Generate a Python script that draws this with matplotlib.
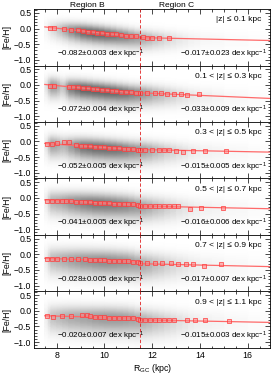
import numpy as np
import matplotlib
matplotlib.use("Agg")
import matplotlib.pyplot as plt
from matplotlib.colors import LinearSegmentedColormap
from matplotlib.ticker import MultipleLocator

plt.rcParams['font.family'] = ['Liberation Sans', 'DejaVu Sans']
plt.rcParams['mathtext.fontset'] = 'custom'
plt.rcParams['mathtext.rm'] = 'Liberation Sans'
plt.rcParams['mathtext.it'] = 'Liberation Sans:italic'

# ---- data ----
z_labels = ["|z| \u2264 0.1 kpc", "0.1 < |z| \u2264 0.3 kpc", "0.3 < |z| \u2264 0.5 kpc",
            "0.5 < |z| \u2264 0.7 kpc", "0.7 < |z| \u2264 0.9 kpc", "0.9 < |z| \u2264 1.1 kpc"]

R_split = 11.5

slope_B = [-0.082, -0.072, -0.052, -0.041, -0.028, -0.020]
err_B = [0.003, 0.004, 0.005, 0.005, 0.005, 0.007]
slope_C = [-0.017, -0.033, -0.015, -0.016, -0.017, -0.015]
err_C = [0.023, 0.009, 0.005, 0.006, 0.007, 0.003]
# fit line value at R=8 (region B) and at R=11.5 (region C)
fitB_at8 = [0.01, -0.02, -0.09, -0.085, -0.14, -0.17]
fitC_at115 = [-0.29, -0.25, -0.26, -0.26, -0.30, -0.29]

# binned medians (red squares)
bin_R = [
    [7.7, 7.9, 8.3, 8.6, 8.9, 9.1, 9.3, 9.5, 9.7, 9.9, 10.1, 10.3, 10.5, 10.7, 10.9, 11.1, 11.3,
     11.6, 11.8, 12.0, 12.3, 12.7],
    [7.7, 7.9, 8.5, 8.7, 8.9, 9.1, 9.3, 9.5, 9.7, 9.9, 10.1, 10.3, 10.5, 10.7, 10.9, 11.1, 11.3,
     11.5, 11.8, 12.1, 12.35, 12.6, 12.9, 13.2, 13.45, 13.95],
    [7.6, 7.8, 8.0, 8.3, 8.5, 8.8, 9.0, 9.2, 9.4, 9.6, 9.8, 10.0, 10.2, 10.4, 10.6, 10.8, 11.0, 11.2, 11.4,
     11.5, 11.7, 12.0, 12.3, 12.5, 12.7, 13.0, 13.3, 13.7, 14.2, 15.1],
    [7.6, 7.8, 8.0, 8.2, 8.4, 8.6, 8.8, 9.0, 9.2, 9.4, 9.6, 9.8, 10.0, 10.2, 10.4, 10.6, 10.8, 11.0, 11.2, 11.4,
     11.5, 11.7, 11.9, 12.1, 12.3, 12.5, 12.7, 12.9, 13.1, 13.6, 14.05, 14.95],
    [7.6, 7.8, 8.0, 8.3, 8.6, 8.9, 9.2, 9.4, 9.6, 9.8, 10.0, 10.2, 10.4, 10.6, 10.8, 11.0, 11.2, 11.4,
     11.5, 11.8, 12.1, 12.4, 12.8, 13.1, 13.4, 13.7, 14.15, 14.9],
    [7.6, 7.85, 8.2, 8.6, 9.05, 9.25, 9.4, 9.6, 9.8, 10.0, 10.2, 10.4, 10.6, 10.8, 11.0, 11.2, 11.4,
     11.5, 11.7, 11.9, 12.1, 12.3, 12.5, 12.7, 12.9, 13.45, 13.8, 14.2, 15.2],
]
bin_feh = [
    [0.03, 0.02, -0.01, -0.04, -0.06, -0.08, -0.10, -0.11, -0.13, -0.14, -0.16, -0.18, -0.19, -0.21, -0.23, -0.24, -0.25,
     -0.28, -0.29, -0.29, -0.30, -0.31],
    [-0.03, -0.04, -0.05, -0.07, -0.08, -0.10, -0.11, -0.12, -0.14, -0.15, -0.17, -0.18, -0.20, -0.21, -0.23, -0.24, -0.26,
     -0.25, -0.26, -0.27, -0.27, -0.28, -0.28, -0.28, -0.31, -0.28],
    [-0.07, -0.07, -0.06, -0.03, -0.03, -0.13, -0.14, -0.15, -0.16, -0.17, -0.18, -0.19, -0.20, -0.21, -0.22, -0.23, -0.24, -0.25, -0.26,
     -0.26, -0.26, -0.27, -0.27, -0.28, -0.28, -0.29, -0.34, -0.30, -0.32, -0.31],
    [-0.09, -0.09, -0.09, -0.10, -0.10, -0.11, -0.12, -0.12, -0.13, -0.14, -0.15, -0.16, -0.16, -0.17, -0.18, -0.19, -0.20, -0.20, -0.21, -0.22,
     -0.25, -0.25, -0.25, -0.26, -0.26, -0.26, -0.27, -0.27, -0.27, -0.37, -0.31, -0.31],
    [-0.15, -0.15, -0.15, -0.14, -0.14, -0.15, -0.16, -0.17, -0.18, -0.18, -0.19, -0.20, -0.20, -0.21, -0.22, -0.22, -0.23, -0.24,
     -0.28, -0.28, -0.29, -0.29, -0.29, -0.30, -0.30, -0.30, -0.37, -0.30],
    [-0.18, -0.19, -0.18, -0.17, -0.14, -0.14, -0.18, -0.20, -0.21, -0.21, -0.22, -0.22, -0.23, -0.23, -0.24, -0.24, -0.25,
     -0.29, -0.29, -0.29, -0.30, -0.29, -0.30, -0.30, -0.30, -0.30, -0.31, -0.31, -0.32],
]

# star cloud: relative density at these R nodes, and spread above / below the trend
cloud_R = [7.5, 7.75, 8.0, 8.25, 8.5, 9.0, 9.5, 10.0, 10.5, 11.0, 11.5, 12.0, 12.5, 13.0, 13.5, 14.0, 15.0, 16.0, 17.0]
cloud_dens = [
    [0.0, 0.10, 0.20, 0.35, 0.55, 0.90, 1.00, 0.95, 0.80, 0.65, 0.45, 0.28, 0.15, 0.08, 0.04, 0.02, 0.01, 0.005, 0.0],
    [0.0, 0.55, 0.50, 0.15, 0.70, 1.00, 1.00, 1.00, 0.95, 0.80, 0.60, 0.40, 0.25, 0.14, 0.08, 0.05, 0.02, 0.01, 0.0],
    [0.0, 0.50, 0.45, 0.30, 0.45, 0.80, 0.90, 0.90, 0.85, 0.70, 0.55, 0.38, 0.22, 0.13, 0.07, 0.04, 0.02, 0.01, 0.0],
    [0.0, 0.35, 0.40, 0.45, 0.55, 0.70, 0.80, 0.80, 0.75, 0.65, 0.50, 0.35, 0.22, 0.12, 0.07, 0.04, 0.02, 0.01, 0.0],
    [0.0, 0.30, 0.35, 0.40, 0.45, 0.55, 0.60, 0.65, 0.60, 0.55, 0.45, 0.32, 0.20, 0.12, 0.07, 0.04, 0.02, 0.01, 0.0],
    [0.0, 0.25, 0.30, 0.35, 0.40, 0.45, 0.50, 0.55, 0.55, 0.50, 0.42, 0.30, 0.20, 0.12, 0.07, 0.04, 0.02, 0.01, 0.0],
]
cloud_up = [0.14, 0.15, 0.16, 0.18, 0.20, 0.20]
cloud_down = [0.20, 0.22, 0.24, 0.26, 0.28, 0.30]


def fit_value(i, R):
    R = np.asarray(R, dtype=float)
    b = fitB_at8[i] + slope_B[i] * (R - 8.0)
    c = fitC_at115[i] + slope_C[i] * (R - R_split)
    return np.where(R < R_split, b, c)


xlim = (7.05, 16.95)
ylim = (-1.18, 0.62)
red = '#ff3b3b'
cmap = LinearSegmentedColormap.from_list('cloud', ['#ffffff', '#646464'])

fig, axes = plt.subplots(6, 1, figsize=(2.77, 3.78), dpi=100, sharex=True,
                         gridspec_kw=dict(hspace=0))
fig.subplots_adjust(left=0.123, right=0.976, top=0.976, bottom=0.08)

yy = np.linspace(ylim[0], ylim[1], 240)
for i, ax in enumerate(axes):
    # grey star cloud
    Rn = np.array(cloud_R)
    cen = fit_value(i, Rn)
    d = yy[:, None] - cen[None, :]
    sig = np.where(d > 0, cloud_up[i], cloud_down[i])
    Z = np.array(cloud_dens[i])[None, :] * np.exp(-0.5 * (d / sig) ** 2)
    ax.pcolormesh(Rn, yy, Z ** 0.75, shading='gouraud', cmap=cmap, vmin=0, vmax=1,
                  zorder=1, rasterized=True)

    # fit lines
    rb = np.array([7.5, R_split])
    rc = np.array([R_split, 17.0])
    ax.plot(rb, fitB_at8[i] + slope_B[i] * (rb - 8.0), color='#ff6a6a', lw=0.9, zorder=3)
    ax.plot(rc, fitC_at115[i] + slope_C[i] * (rc - R_split), color='#ff6a6a', lw=0.9, zorder=3)

    # binned medians
    ax.plot(bin_R[i], bin_feh[i], ls='none', marker='s', ms=2.2, mew=0.5,
            mfc=(1.0, 0.5, 0.5, 0.55), mec=red, zorder=4)

    ax.axvline(R_split, color='#e02020', ls=(0, (4, 2.5)), lw=0.6, zorder=5)

    ax.set_xlim(*xlim)
    ax.set_ylim(*ylim)
    ax.set_yticks([0.5, 0.0, -0.5, -1.0])
    ax.yaxis.set_minor_locator(MultipleLocator(0.1))
    ax.xaxis.set_major_locator(MultipleLocator(2))
    ax.xaxis.set_minor_locator(MultipleLocator(0.5))
    ax.tick_params(which='both', direction='in', top=True, right=True, labelsize=6.3,
                   width=0.5, pad=2)
    ax.tick_params(which='major', length=3.5)
    ax.tick_params(which='minor', length=1.8)
    for s in ax.spines.values():
        s.set_linewidth(0.6)
    ax.set_ylabel('[Fe/H]', fontsize=6.3, labelpad=2)

    ax.text(0.962, 0.81, z_labels[i], transform=ax.transAxes, ha='right', va='center',
            fontsize=6)
    ax.text(0.097, 0.2, r'$-$%.3f$\pm$%.3f dex kpc$^{-1}$' % (-slope_B[i], err_B[i]),
            transform=ax.transAxes, ha='left', va='center', fontsize=5.8)
    ax.text(0.985, 0.2, r'$-$%.3f$\pm$%.3f dex kpc$^{-1}$' % (-slope_C[i], err_C[i]),
            transform=ax.transAxes, ha='right', va='center', fontsize=5.8)

axes[0].text(9.3, 1.0, 'Region B', transform=axes[0].get_xaxis_transform(),
             ha='center', va='bottom', fontsize=6)
axes[0].text(13.0, 1.0, 'Region C', transform=axes[0].get_xaxis_transform(),
             ha='center', va='bottom', fontsize=6)
axes[-1].set_xlabel(r'R$_{\rm GC}$ (kpc)', fontsize=6.3, labelpad=1.5)

fig.savefig('out.png', dpi=100)
